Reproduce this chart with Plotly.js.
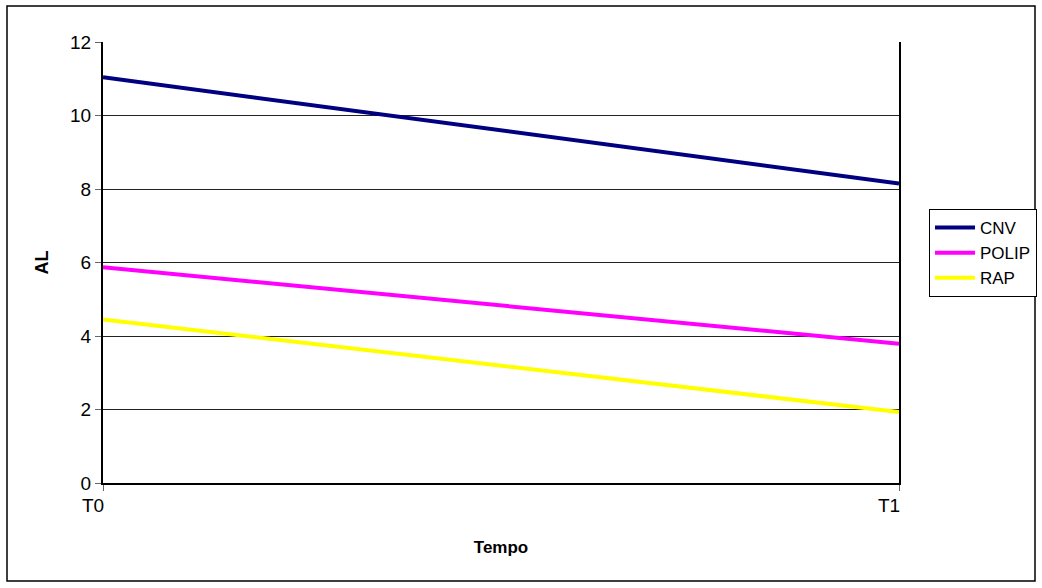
<!DOCTYPE html>
<html><head><meta charset="utf-8">
<script src="https://cdn.plot.ly/plotly-3.0.1.min.js"></script>
<style>body{margin:0;background:#fff}#c{width:1042px;height:588px}</style>
</head><body><div id="c"></div>
<script>
const categories = ["T0", "T1"];
const seriesNames = ["CNV", "POLIP", "RAP"];
const cnv = [11.04, 8.15];
const polip = [5.87, 3.79];
const rap = [4.45, 1.93];
const colors = ["#000080", "#FF00FF", "#FFFF00"];
const yTicks = [0, 2, 4, 6, 8, 10, 12];

const values = [cnv, polip, rap];
const traces = seriesNames.map((n, i) => ({
  x: categories, y: values[i], name: n, type: "scatter", mode: "lines",
  line: {color: colors[i], width: 4}
}));

const W = 796, H = 441, L = 103, T = 42;
const px = v => (v - L) / W, py = v => (T + H - v) / H;

const layout = {
  width: 1042, height: 588,
  margin: {l: L, r: 1042 - L - W, t: T, b: 588 - T - H, pad: 0, autoexpand: false},
  paper_bgcolor: "#fff", plot_bgcolor: "#fff",
  font: {family: "Liberation Sans, Arial, sans-serif", size: 17, color: "#000"},
  showlegend: true,
  legend: {xref: "container", yref: "container", x: 929 / 1042, y: 1 - 209 / 588,
    xanchor: "left", yanchor: "top",
    bordercolor: "#000", borderwidth: 1, bgcolor: "#fff",
    font: {size: 17, color: "#000"}, tracegroupgap: 0, itemwidth: 40},
  xaxis: {
    type: "category", range: [0, 1], showgrid: false, zeroline: false,
    showline: true, linecolor: "#000", linewidth: 2,
    ticks: "outside", ticklen: 6, tickcolor: "#666", tickwidth: 1,
    tickfont: {size: 19}, ticklabelshift: -10, ticklabelstandoff: -2, fixedrange: true,
    title: {text: "<b>Tempo</b>", font: {size: 17}, standoff: 26}
  },
  yaxis: {
    range: [0, 12], tickvals: yTicks, ticktext: yTicks.map(String),
    showgrid: true, gridcolor: "#222", gridwidth: 1, zeroline: false,
    showline: true, linecolor: "#000", linewidth: 2, mirror: true,
    ticks: "outside", ticklen: 6, tickcolor: "#666", tickwidth: 1,
    tickfont: {size: 19}, fixedrange: true,
    title: {text: "<b>AL</b>", font: {size: 18}, standoff: 17}
  },
  shapes: [{type: "rect", xref: "paper", yref: "paper",
    x0: px(7), x1: px(1035), y0: py(581), y1: py(6),
    line: {color: "#000", width: 1.5}, fillcolor: "rgba(0,0,0,0)", layer: "below"}]
};
Plotly.newPlot("c", traces, layout, {displayModeBar: false, staticPlot: true});
</script></body></html>
